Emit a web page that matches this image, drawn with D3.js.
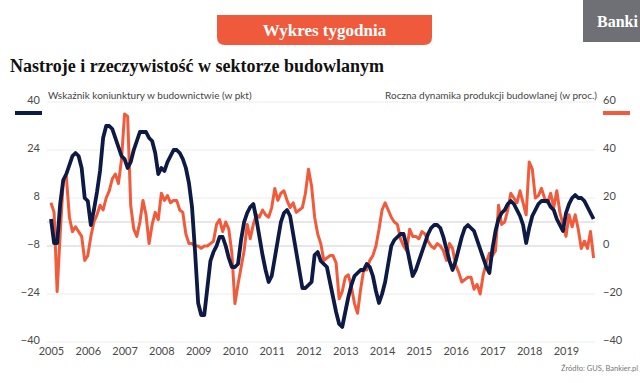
<!DOCTYPE html>
<html>
<head>
<meta charset="utf-8">
<script src="https://cdn.jsdelivr.net/npm/d3@7"></script>
<style>
  body { margin: 0; background: #fff; }
  svg { display: block; }
</style>
</head>
<body>
<div id="chart"></div>
<script>
// miesieczne dane od 2005-01 do 2019-10
const years = [2005, 2006, 2007, 2008, 2009, 2010, 2011, 2012, 2013, 2014, 2015, 2016, 2017, 2018, 2019];

// wskaznik koniunktury (lewa os, pkt)
const koniunktura = [
  1, -7, -7, 6, 14, 16, 19, 22, 23, 22, 18, 8,
  7, -1, 4, 10, 17, 28, 32, 32, 31, 28, 25, 22,
  21, 18, 20, 24, 27, 30, 30, 30, 28, 27, 23, 16,
  18, 17, 20, 22, 24, 24, 23, 21, 18, 13, 5, -10,
  -27, -31, -31, -22, -13, -10, -8, -5, -5, -8, -12, -15,
  -15, -14, -6, 0, 3, 5, 6, 1, -5, -11, -16, -20,
  -18, -12, -6, 0, 3, 4, 2, -4, -10, -16, -22, -22,
  -21, -20, -11, -10, -13, -14, -15, -20, -25, -30, -34, -35,
  -30, -25, -21, -18, -17, -16, -16, -14, -15, -18, -23, -27,
  -24, -20, -14, -8, -6, -5, -4, -4, -8, -13, -18, -16,
  -13, -10, -7, -4, -2, -1, -1, -2, -5, -9, -13, -16,
  -13, -9, -5, -2, -1, -2, -3, -6, -9, -12, -15, -17,
  -9, -3, 1, 3, 4, 6, 7, 6, 4, 2, -1, -7,
  -2, 2, 4, 6, 7, 7, 7, 5, 4, 1, -1, -3,
  3, 6, 8, 9, 8, 8, 7, 5, 3, 1
];

// roczna dynamika produkcji budowlanej (prawa os, %)
const dynamika = [
  18, 14, -19, 5, 27, 29, 12, 6, 8, 6, 4, -6,
  -4, 4, 10, 13, 17, 15, 20, 23, 28, 30, 26, 36,
  55, 54, 17, 7, 4, 10, 19, 13, 1, 9, 14, 11,
  22, 19, 21, 18, 19, 19, 15, 14, 5, 1, 1, 0,
  0, -1, 0, 0, 1, 2, 9, 11, 6, 10, 7, -3,
  -24, -16, -9, -2, 9, 3, 9, 13, 12, 15, 13, 12,
  16, 24, 19, 22, 23, 19, 16, 18, 14, 15, 16, 22,
  32, 25, 12, 5, 1, -6, -5, -4, -4, -7, -22, -19,
  -13, -12, -17, -24, -28, -18, -10, -10, -6, -4, 0, 7,
  15, 18, 15, 12, 10, 9, 3, 0, -2, 7, 4, 4,
  3, 6, 5, 2, 0, -1, 1, 0, -2, -6, 1, -1,
  -8, -11, -15, -14, -13, -13, -18, -16, -20, -12, -7, -3,
  -4, -2, 17, 9, 10, 15, 22, 20, 18, 23, 18, 13,
  35, 32, 20, 21, 24, 20, 18, 22, 16, 23, 14, 9,
  4, 13, 8, 13, 7, -1, 2, -1, 6, -5
];

const leftTicks = [-40, -24, -8, 8, 24, 40];
const rightTicks = [-40, -20, 0, 20, 40, 60];

const W = 640, H = 383;
const navy = "#0c1a45", orange = "#f15a3a";

const svg = d3.select("#chart").append("svg")
  .attr("width", W).attr("height", H)
  .style("font-family", "Lato, sans-serif");

// naglowek
svg.append("path")
  .attr("d", "M217,15 H432 V37 Q432,45 424,45 H225 Q217,45 217,37 Z")
  .attr("fill", "#ef5a3c");
svg.append("text")
  .attr("x", 324.5).attr("y", 36)
  .attr("text-anchor", "middle")
  .attr("fill", "#fff")
  .style("font-family", "'Liberation Serif', serif")
  .style("font-weight", "bold")
  .style("font-size", "17px")
  .text("Wykres tygodnia");

// logo ucięte przy prawej krawędzi
svg.append("rect")
  .attr("x", 583).attr("y", 0).attr("width", 60).attr("height", 42)
  .attr("fill", "#6f7075");
svg.append("text")
  .attr("x", 597).attr("y", 27)
  .attr("fill", "#fff")
  .style("font-family", "'Liberation Serif', serif")
  .style("font-weight", "bold")
  .style("font-size", "16px")
  .text("Banki");

svg.append("text")
  .attr("x", 10).attr("y", 72)
  .attr("fill", "#111")
  .style("font-family", "'Liberation Serif', serif")
  .style("font-weight", "bold")
  .style("font-size", "18px")
  .text("Nastroje i rzeczywistość w sektorze budowlanym");

// skale
const x = d3.scaleLinear().domain([0, 168]).range([51, 566]);
const yL = d3.scaleLinear().domain([-40, 40]).range([342, 102]);
const yR = d3.scaleLinear().domain([-40, 60]).range([342, 102]);

// siatka
svg.append("g")
  .selectAll("line")
  .data(leftTicks)
  .join("line")
  .attr("x1", 47).attr("x2", 595)
  .attr("y1", d => yL(d)).attr("y2", d => yL(d))
  .attr("stroke", d => d === -8 ? "#cfcfcf" : "#ececec")
  .attr("stroke-width", 1);
svg.append("line")
  .attr("x1", 47).attr("x2", 595)
  .attr("y1", yL(0)).attr("y2", yL(0))
  .attr("stroke", "#cfcfcf");

// osie
const axL = svg.append("g")
  .attr("transform", "translate(43,0)")
  .call(d3.axisLeft(yL).tickValues(leftTicks).tickSize(0).tickPadding(3));
const axR = svg.append("g")
  .attr("transform", "translate(600,0)")
  .call(d3.axisRight(yR).tickValues(rightTicks).tickSize(0).tickPadding(3));
const axX = svg.append("g")
  .attr("transform", "translate(0,346)")
  .call(d3.axisBottom(x)
    .tickValues(years.map((y, i) => i * 12))
    .tickFormat((d, i) => years[i])
    .tickSize(0).tickPadding(1));

[axL, axR, axX].forEach(a => {
  a.select(".domain").remove();
  a.selectAll("text")
    .attr("fill", "#4a4a4a")
    .style("font-family", "Lato, sans-serif")
    .style("font-size", "11px");
});
axL.selectAll("text").attr("dy", "0.1em");
axR.selectAll("text").attr("dy", "0.1em");

// linie
const lineR = d3.line().x((d, i) => x(i)).y(d => yR(d));
const lineL = d3.line().x((d, i) => x(i)).y(d => yL(d));

svg.append("path")
  .datum(dynamika)
  .attr("d", lineR)
  .attr("fill", "none")
  .attr("stroke", orange)
  .attr("stroke-width", 3)
  .attr("stroke-linejoin", "round");

svg.append("path")
  .datum(koniunktura)
  .attr("d", lineL)
  .attr("fill", "none")
  .attr("stroke", navy)
  .attr("stroke-width", 3.8)
  .attr("stroke-linejoin", "round");

// legenda
svg.append("line")
  .attr("x1", 15).attr("x2", 42).attr("y1", 113).attr("y2", 113)
  .attr("stroke", navy).attr("stroke-width", 4);
svg.append("text")
  .attr("x", 48).attr("y", 99)
  .attr("fill", "#444").style("font-size", "10px")
  .text("Wskaźnik koniunktury w budownictwie (w pkt)");

svg.append("line")
  .attr("x1", 603).attr("x2", 630).attr("y1", 113).attr("y2", 113)
  .attr("stroke", orange).attr("stroke-width", 4);
svg.append("text")
  .attr("x", 597).attr("y", 99)
  .attr("text-anchor", "end")
  .attr("fill", "#444").style("font-size", "10px")
  .text("Roczna dynamika produkcji budowlanej (w proc.)");

svg.append("text")
  .attr("x", 638).attr("y", 371)
  .attr("text-anchor", "end")
  .attr("fill", "#777").style("font-size", "7.5px")
  .text("Źródło: GUS, Bankier.pl");
</script>
</body>
</html>
